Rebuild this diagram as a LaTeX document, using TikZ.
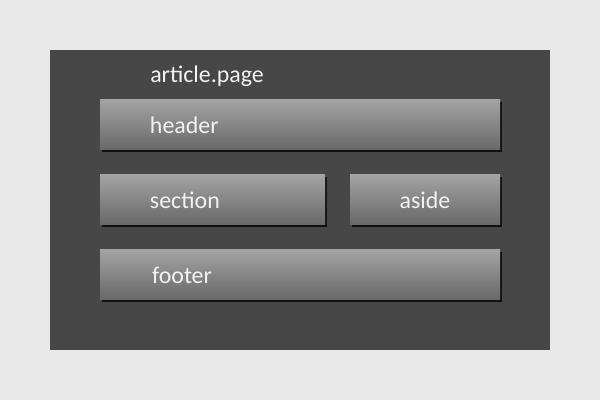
\documentclass[tikz,border=0pt]{standalone}
\usepackage{fontspec}
\setmainfont{Carlito}
\usetikzlibrary{shadows}

\definecolor{pagebg}{HTML}{E9E9E9}
\definecolor{pagedark}{HTML}{474747}
\definecolor{boxtop}{HTML}{A3A3A3}
\definecolor{boxbottom}{HTML}{686868}
\definecolor{labeltext}{HTML}{F2F2F2}

\tikzset{
    block/.style = {top color = boxtop, bottom color = boxbottom, inner sep = 0pt,
        minimum height = 1.25cm, text = labeltext, font = \fontsize{17}{20}\selectfont,
        text height = 0.45cm, text depth = 0cm,
        drop shadow = {shadow xshift = 0.04cm, shadow yshift = -0.04cm, fill = black, opacity = 0.75}},
    wideblock/.style = {block, minimum width = 10cm, text width = 7.5cm, align = left},
}

\begin{document}
\begin{tikzpicture}
    \fill[pagebg] (0, 0) rectangle (15, 10);
    \fill[pagedark] (1.25, 1.25) rectangle (13.75, 8.75);

    \node[anchor = base west, inner sep = 0pt, text = labeltext, font = \fontsize{17}{20}\selectfont] (page) at (3.75, 7.94) {article.page};

    % the layout blocks
    \node[wideblock] (header) at (7.5, 6.875) {header};
    \node[block, minimum width = 5.625cm, text width = 3.125cm, align = left] (section) at (5.3125, 5) {section};
    \node[block, minimum width = 3.75cm, align = center] (aside) at (10.625, 5) {aside};
    \node[wideblock, text width = 7.4cm] (footer) at (7.5, 3.125) {footer};
\end{tikzpicture}
\end{document}
